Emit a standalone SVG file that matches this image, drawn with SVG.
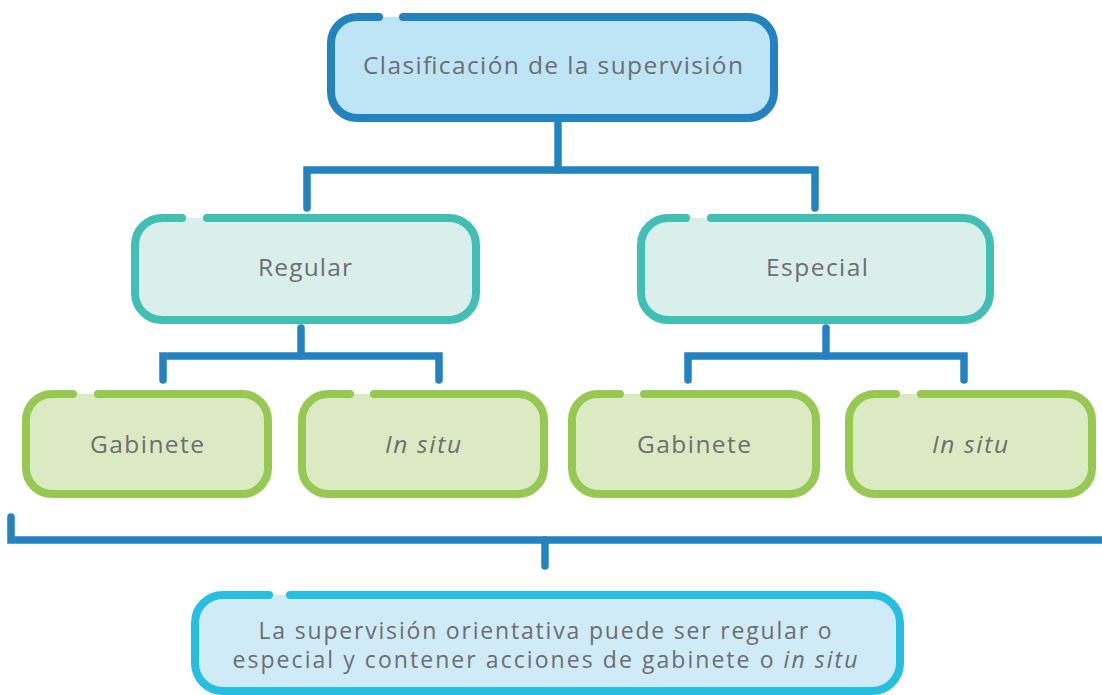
<svg xmlns="http://www.w3.org/2000/svg" width="1102" height="695" viewBox="0 0 1102 695">
<style>
.conn{fill:none;stroke:#2383C1;stroke-width:7.5;stroke-linecap:round;stroke-linejoin:miter}
.b{fill:none;stroke-width:8;stroke-linecap:round}
.t{font-family:"Open Sans","Noto Sans","Liberation Sans",sans-serif;font-size:24.5px;fill:#6D6E71;text-anchor:middle}
.s{font-size:23px}
.i{font-style:italic}
.blue .f{fill:#BEE5F5}.blue .b{stroke:#2383C1}
.teal .f{fill:#DAEEEC}.teal .b{stroke:#41BFB5}
.green .f{fill:#DCEAC4}.green .b{stroke:#95C952}
.cyan .f{fill:#CFEBF7}.cyan .b{stroke:#27BFE1}
</style>
<rect width="1102" height="695" fill="#FFFFFF"/>
<g id="connectors">
<path class="conn" d="M558,122 V170"/>
<path class="conn" d="M307,208 V170 H815 V208"/>
<path class="conn" d="M301,328 V356"/>
<path class="conn" d="M163,380 V356 H439 V380"/>
<path class="conn" d="M826,328 V356"/>
<path class="conn" d="M688,380 V356 H964 V380"/>
<path class="conn" d="M11,517 V540 H1106"/>
<path class="conn" d="M545,540 V566"/>
</g>
<g id="n-root" class="blue">
<rect class="f" x="331" y="17" width="443" height="101" rx="26"/>
<path class="b" d="M403,17 H748 A26 26 0 0 1 774,43 V92 A26 26 0 0 1 748,118 H357 A26 26 0 0 1 331,92 V43 A26 26 0 0 1 357,17 H379"/>
<text class="t" x="553" y="74" textLength="380" lengthAdjust="spacing">Clasificación de la supervisión</text>
</g>
<g id="n-regular" class="teal">
<rect class="f" x="135" y="218" width="341" height="102" rx="27"/>
<path class="b" d="M207,218 H449 A27 27 0 0 1 476,245 V293 A27 27 0 0 1 449,320 H162 A27 27 0 0 1 135,293 V245 A27 27 0 0 1 162,218 H182"/>
<text class="t" x="305" y="276" textLength="94" lengthAdjust="spacing">Regular</text>
</g>
<g id="n-especial" class="teal">
<rect class="f" x="641" y="218" width="349" height="102" rx="27"/>
<path class="b" d="M711,218 H963 A27 27 0 0 1 990,245 V293 A27 27 0 0 1 963,320 H668 A27 27 0 0 1 641,293 V245 A27 27 0 0 1 668,218 H686"/>
<text class="t" x="817" y="276" textLength="102" lengthAdjust="spacing">Especial</text>
</g>
<g id="n-gabinete-1" class="green">
<rect class="f" x="26" y="394" width="242" height="100" rx="26"/>
<path class="b" d="M98,394 H242 A26 26 0 0 1 268,420 V468 A26 26 0 0 1 242,494 H52 A26 26 0 0 1 26,468 V420 A26 26 0 0 1 52,394 H73"/>
<text class="t" x="147" y="452.5" textLength="114" lengthAdjust="spacing">Gabinete</text>
</g>
<g id="n-insitu-1" class="green">
<rect class="f" x="302" y="394" width="242" height="100" rx="26"/>
<path class="b" d="M374,394 H518 A26 26 0 0 1 544,420 V468 A26 26 0 0 1 518,494 H328 A26 26 0 0 1 302,468 V420 A26 26 0 0 1 328,394 H350"/>
<text class="t i" x="423" y="452.5" textLength="76" lengthAdjust="spacing">In situ</text>
</g>
<g id="n-gabinete-2" class="green">
<rect class="f" x="572" y="394" width="244" height="100" rx="26"/>
<path class="b" d="M644,394 H790 A26 26 0 0 1 816,420 V468 A26 26 0 0 1 790,494 H598 A26 26 0 0 1 572,468 V420 A26 26 0 0 1 598,394 H620"/>
<text class="t" x="694" y="452.5" textLength="114" lengthAdjust="spacing">Gabinete</text>
</g>
<g id="n-insitu-2" class="green">
<rect class="f" x="849" y="394" width="243" height="100" rx="26"/>
<path class="b" d="M921,394 H1066 A26 26 0 0 1 1092,420 V468 A26 26 0 0 1 1066,494 H875 A26 26 0 0 1 849,468 V420 A26 26 0 0 1 875,394 H896"/>
<text class="t i" x="970" y="452.5" textLength="76" lengthAdjust="spacing">In situ</text>
</g>
<g id="n-nota" class="cyan">
<rect class="f" x="195" y="595" width="705" height="96" rx="28"/>
<path class="b" d="M290,595 H872 A28 28 0 0 1 900,623 V663 A28 28 0 0 1 872,691 H223 A28 28 0 0 1 195,663 V623 A28 28 0 0 1 223,595 H269"/>
<text class="t s" x="545" y="639" textLength="573" lengthAdjust="spacing">La supervisión orientativa puede ser regular o</text>
<text class="t s" x="545" y="668" textLength="625" lengthAdjust="spacing">especial y contener acciones de gabinete o <tspan class="i">in situ</tspan></text>
</g>
</svg>
